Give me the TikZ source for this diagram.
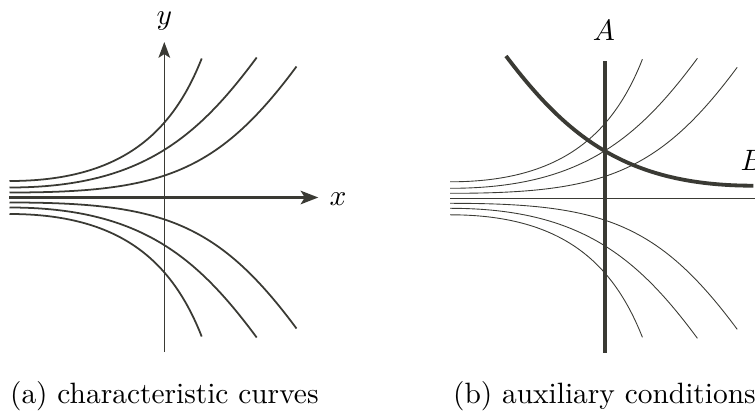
\documentclass[tikz,border=0pt]{standalone}
\usetikzlibrary{arrows.meta}
\definecolor{ink}{RGB}{58,58,52}
\newcommand\famcurves[1]{%
  \draw[#1] (9.5,-16.5) .. controls (119.5,-16.5) and (171.7,-62.8) .. (201.7,-139);
  \draw[#1] (9.5,-10) .. controls (139.5,-10) and (196.7,-59) .. (256.7,-140);
  \draw[#1] (9.5,-5) .. controls (159.5,-5) and (216.5,-23) .. (296.5,-131);
}
\tikzset{
  curvethick/.style={draw=ink, line width=0.6pt},
  curvethin/.style={draw=ink, line width=0.3pt},
  lbl/.style={inner sep=0pt, text=black},
}
\begin{document}
\begin{tikzpicture}[x=0.34pt, y=-0.34pt]
\useasboundingbox (0,0) rectangle (755,417);
% ---------- (a) ----------
\coordinate (xs) at (9,197.5);
\coordinate (xe) at (318.3,197.5);
\coordinate (ys) at (164.3,352);
\coordinate (ye) at (164.3,42);
\begin{scope}[shift={(0,197.5)}]
  \famcurves{curvethick}
\end{scope}
\begin{scope}[shift={(0,197.5)}, yscale=-1]
  \famcurves{curvethick}
\end{scope}
\draw[ink, line width=0.45pt, -{Stealth[length=5.4pt,width=4pt,inset=1.3pt]}] (ys) -- (ye);
\draw[ink, line width=0.85pt, -{Stealth[length=6pt,width=4.6pt,inset=1.4pt]}] (xs) -- (xe);
\node[lbl, anchor=base] (ylab) at (164.3,24) {$y$};
\node[lbl, anchor=base] (xlab) at (338,205.5) {$x$};
\node[lbl, anchor=base west] (capa) at (9.5,403.5) {(a) characteristic curves};
% ---------- (b) ----------
\coordinate (hs) at (450,198.3);
\coordinate (he) at (755,198.3);
\draw[ink, line width=0.35pt] (hs) -- (he);
\begin{scope}[shift={(440.7,198.3)}]
  \famcurves{curvethin}
\end{scope}
\begin{scope}[shift={(440.7,198.3)}, yscale=-1]
  \famcurves{curvethin}
\end{scope}
\coordinate (as) at (605,352.7);
\coordinate (ae) at (605,61);
\coordinate (bs) at (506,56);
\coordinate (be) at (753.3,185.7);
\draw[ink, line width=1.1pt] (as) -- (ae);
\draw[ink, line width=1.3pt] (bs) .. controls (568,138) and (628,185.7) .. (be);
\node[lbl, anchor=base] (alab) at (604,40) {$A$};
\node[lbl, anchor=base west] (blab) at (740,170.7) {$B$};
\node[lbl, anchor=base west] (capb) at (452.5,403.5) {(b) auxiliary conditions};
\end{tikzpicture}
\end{document}
